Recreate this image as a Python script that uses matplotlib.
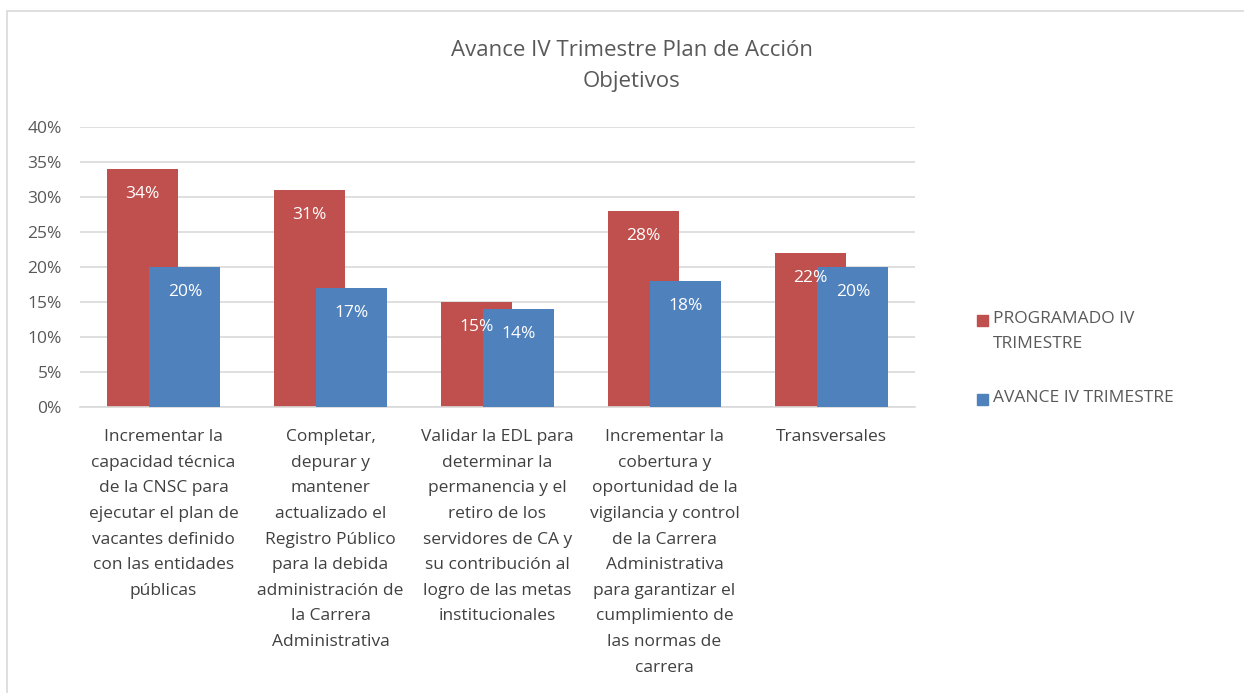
import numpy as np
import matplotlib.pyplot as plt
from matplotlib.patches import Rectangle

categories = [
    "Incrementar la\ncapacidad técnica\nde la CNSC para\nejecutar el plan de\nvacantes definido\ncon las entidades\npúblicas",
    "Completar,\ndepurar y\nmantener\nactualizado el\nRegistro Público\npara la debida\nadministración de\nla Carrera\nAdministrativa",
    "Validar la EDL para\ndeterminar la\npermanencia y el\nretiro de los\nservidores de CA y\nsu contribución al\nlogro de las metas\ninstitucionales",
    "Incrementar la\ncobertura y\noportunidad de la\nvigilancia y control\nde la Carrera\nAdministrativa\npara garantizar el\ncumplimiento de\nlas normas de\ncarrera",
    "Transversales",
]
series_names = ["PROGRAMADO IV\nTRIMESTRE", "AVANCE IV TRIMESTRE"]
programado = [34, 31, 15, 28, 22]
avance = [20, 17, 14, 18, 20]
yticks = [0, 5, 10, 15, 20, 25, 30, 35, 40]

RED = "#C0504D"
BLUE = "#4F81BD"
GRAY = "#595959"

plt.rcParams['font.family'] = ['Open Sans', 'DejaVu Sans']

def main():
    fig = plt.figure(figsize=(12.44, 6.93), dpi=100)
    fig.patches.append(Rectangle((7 / 1244, -0.1), 1.2, 1.1 - 11 / 693,
                                 transform=fig.transFigure, fill=False,
                                 edgecolor="#d9d9d9", lw=1.2))
    ax = fig.add_axes([80 / 1244, 1 - 407 / 693, 835 / 1244, 280 / 693])

    x = np.arange(len(categories))
    w = 0.425
    off = 0.128
    ax.bar(x - off, programado, w, color=RED, zorder=2)
    ax.bar(x + off, avance, w, color=BLUE, zorder=3)

    for xi, v in zip(x, programado):
        ax.text(xi - off, v - 3.6, "%d%%" % v, ha="center", va="center",
                color="white", fontsize=12.5, zorder=5)
    for xi, v in zip(x, avance):
        ax.text(xi + off, v - 3.6, "%d%%" % v, ha="center", va="center",
                color="white", fontsize=12.5, zorder=5)

    ax.set_xlim(-0.5, len(categories) - 0.5)
    ax.set_ylim(0, 40)
    ax.set_yticks(yticks)
    ax.set_yticklabels(["%d%%" % t for t in yticks], color=GRAY, fontsize=12.5)
    ax.set_xticks(x)
    ax.set_xticklabels(categories, color="#404040", fontsize=12.5, linespacing=1.8,
                       va="top")
    ax.tick_params(axis="x", length=0, pad=16)
    ax.tick_params(axis="y", length=0, pad=13)
    ax.grid(axis="y", color="#d9d9d9", lw=1.2, zorder=0)
    for s in ["top", "right", "left"]:
        ax.spines[s].set_visible(False)
    ax.spines["bottom"].set_color("#d9d9d9")
    ax.spines["bottom"].set_linewidth(1.2)

    fig.text(632 / 1244, 1 - 66 / 693, "Avance IV Trimestre Plan de Acción\nObjetivos",
             ha="center", va="center", fontsize=16, color=GRAY, linespacing=1.6)

    # legend
    colors = [RED, BLUE]
    ys = [320, 399]
    for name, c, yy in zip(series_names, colors, ys):
        fig.patches.append(Rectangle((977 / 1244, 1 - (yy + 6) / 693), 11 / 1244, 11 / 693,
                                     transform=fig.transFigure, color=c))
        fig.text(993 / 1244, 1 - (yy - 9) / 693, name, ha="left", va="top",
                 fontsize=12.5, color=GRAY, linespacing=1.72)

    fig.savefig("out.png", dpi=100)


if __name__ == '__main__':
    main()
